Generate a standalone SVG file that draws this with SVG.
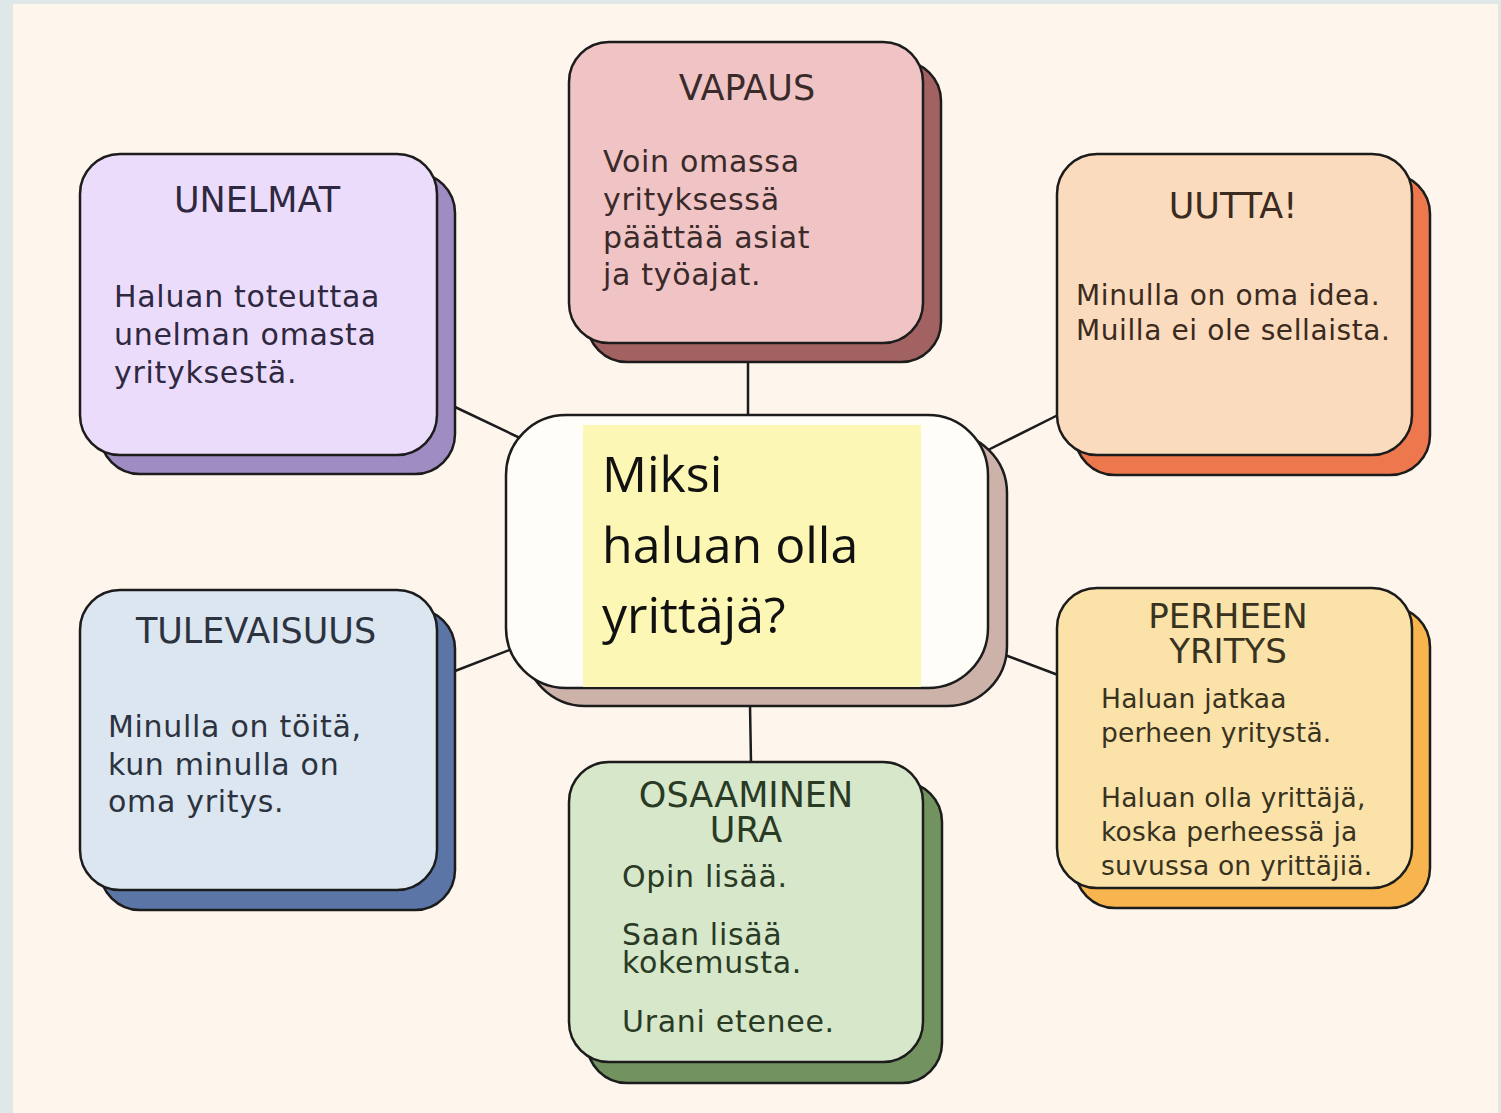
<svg xmlns="http://www.w3.org/2000/svg" width="1501" height="1113" viewBox="0 0 1501 1113">
<style>
.sh{stroke:#1c1c1c;stroke-width:2.5}
.fr{stroke:#1c1c1c;stroke-width:2.5}
.title{font-family:"DejaVu Sans","Liberation Sans",sans-serif;font-size:35px;text-anchor:middle}
.body{font-family:"DejaVu Sans","Liberation Sans",sans-serif;font-size:30px;letter-spacing:0.7px}
.conn line{stroke:#1c1c1c;stroke-width:2.5}
</style>
<rect x="0" y="0" width="1501" height="1113" fill="#e0e7e9"/>
<rect x="13" y="4" width="1485" height="1109" fill="#fef6ed"/>

<g id="connectors" class="conn">
<line x1="748" y1="360" x2="748" y2="416"/>
<line x1="750" y1="705" x2="751" y2="763"/>
<line x1="455" y1="407" x2="520" y2="438"/>
<line x1="988" y1="450" x2="1058" y2="415"/>
<line x1="455" y1="671" x2="512" y2="649"/>
<line x1="1005" y1="655" x2="1058" y2="675"/>
</g>

<g id="vapaus">
<rect class="sh" x="587" y="61" width="354" height="301" rx="40" fill="#a36262"/>
<rect class="fr" x="569" y="42" width="354" height="301" rx="40" fill="#f0c4c5"/>
<g fill="#3a2a2a">
<text class="title" x="747" y="100">VAPAUS</text>
<text class="body" x="603" y="172">Voin omassa</text>
<text class="body" x="603" y="210">yrityksessä</text>
<text class="body" x="603" y="248">päättää asiat</text>
<text class="body" x="603" y="285">ja työajat.</text>
</g>
</g>

<g id="unelmat">
<rect class="sh" x="100" y="173" width="355" height="301" rx="40" fill="#9f8cc3"/>
<rect class="fr" x="80" y="154" width="357" height="301" rx="40" fill="#ecdcfb"/>
<g fill="#2e2840">
<text class="title" x="257" y="212">UNELMAT</text>
<text class="body" x="114" y="307">Haluan toteuttaa</text>
<text class="body" x="114" y="345">unelman omasta</text>
<text class="body" x="114" y="383">yrityksestä.</text>
</g>
</g>

<g id="uutta">
<rect class="sh" x="1075" y="174" width="355" height="301" rx="40" fill="#ed784e"/>
<rect class="fr" x="1057" y="154" width="355" height="301" rx="40" fill="#fadbbd"/>
<g fill="#3a2a20">
<text class="title" x="1233" y="218">UUTTA!</text>
<text class="body" x="1076" y="305" style="font-size:28px;letter-spacing:0.6px">Minulla on oma idea.</text>
<text class="body" x="1076" y="340" style="font-size:28px;letter-spacing:0.6px">Muilla ei ole sellaista.</text>
</g>
</g>

<g id="tulevaisuus">
<rect class="sh" x="100" y="609" width="355" height="301" rx="40" fill="#5b76a6"/>
<rect class="fr" x="80" y="590" width="357" height="300" rx="40" fill="#dce6f0"/>
<g fill="#2c333f">
<text class="title" x="256" y="643">TULEVAISUUS</text>
<text class="body" x="108" y="737">Minulla on töitä,</text>
<text class="body" x="108" y="775">kun minulla on</text>
<text class="body" x="108" y="812">oma yritys.</text>
</g>
</g>

<g id="osaaminen">
<rect class="sh" x="587" y="782" width="355" height="301" rx="40" fill="#729260"/>
<rect class="fr" x="569" y="762" width="354" height="300" rx="40" fill="#d7e7c9"/>
<g fill="#293a25">
<text class="title" x="746" y="807">OSAAMINEN</text>
<text class="title" x="746" y="842">URA</text>
<text class="body" x="622" y="887">Opin lisää.</text>
<text class="body" x="622" y="945">Saan lisää</text>
<text class="body" x="622" y="973">kokemusta.</text>
<text class="body" x="622" y="1032">Urani etenee.</text>
</g>
</g>

<g id="perheen">
<rect class="sh" x="1075" y="607" width="355" height="301" rx="40" fill="#f7b44f"/>
<rect class="fr" x="1057" y="588" width="355" height="300" rx="40" fill="#fae2a9"/>
<g fill="#38321f">
<text class="title" x="1228" y="628" style="font-size:34px">PERHEEN</text>
<text class="title" x="1228" y="663" style="font-size:34px">YRITYS</text>
<text class="body" x="1101" y="708" style="font-size:26.5px;letter-spacing:0.2px">Haluan jatkaa</text>
<text class="body" x="1101" y="742" style="font-size:26.5px;letter-spacing:0.2px">perheen yritystä.</text>
<text class="body" x="1101" y="807" style="font-size:26.5px;letter-spacing:0.2px">Haluan olla yrittäjä,</text>
<text class="body" x="1101" y="841" style="font-size:26.5px;letter-spacing:0.2px">koska perheessä ja</text>
<text class="body" x="1101" y="875" style="font-size:26.5px;letter-spacing:0.2px">suvussa on yrittäjiä.</text>
</g>
</g>

<g id="center">
<rect class="sh" x="525" y="433" width="482" height="273" rx="60" fill="#cdb2aa"/>
<rect class="fr" x="506" y="415" width="482" height="273" rx="60" fill="#fffdf8"/>
<rect x="583" y="425" width="338" height="262" fill="#fcf7b4"/>
<g fill="#111" font-family="'Open Sans','Noto Sans',sans-serif" font-size="50px">
<text x="602" y="492">Miksi</text>
<text x="602" y="563">haluan olla</text>
<text x="602" y="633">yrittäjä?</text>
</g>
</g>
</svg>
